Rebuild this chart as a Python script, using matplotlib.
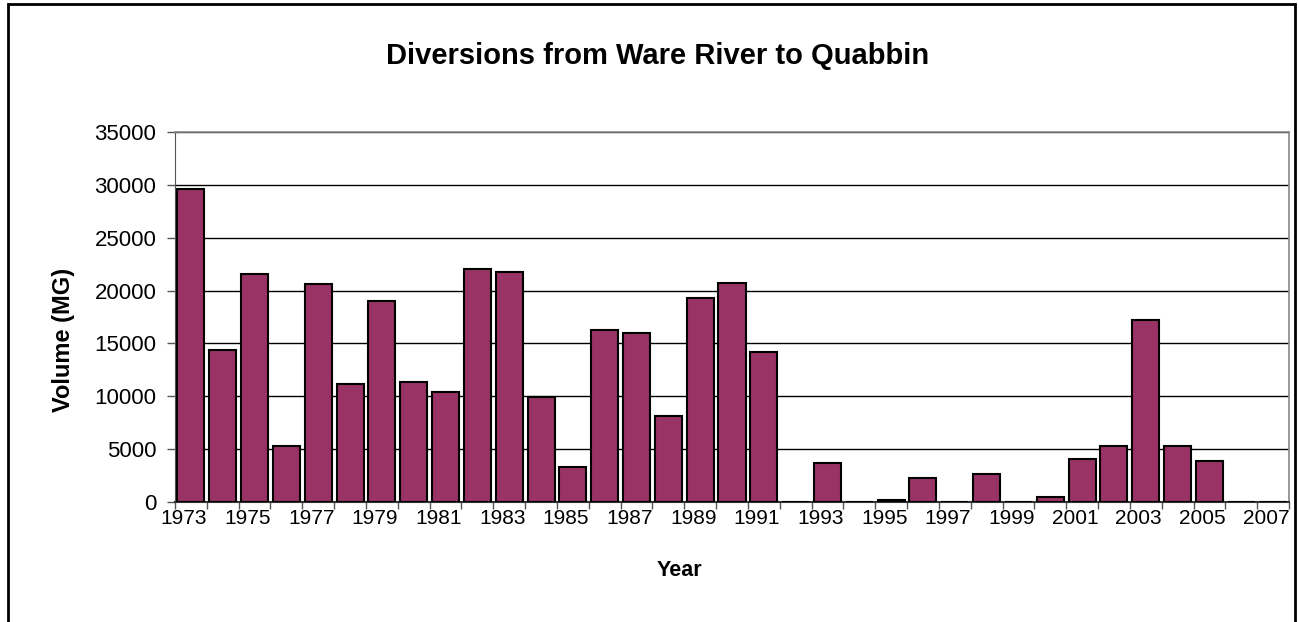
import matplotlib.pyplot as plt
import numpy as np
from matplotlib.patches import Rectangle

plt.rcParams['font.family'] = ['Liberation Sans', 'DejaVu Sans']

years = list(range(1973, 2008))
volume = [29600, 14400, 21600, 5300, 20600, 11150, 19000, 11350, 10450,
          22000, 21800, 9950, 3350, 16300, 16000, 8100, 19300, 20700, 14200,
          0, 3700, 0, 150, 2300, 0, 2650, 0, 500, 4050, 5300, 17200, 5300,
          3900, 0, 0]
yticks = [0, 5000, 10000, 15000, 20000, 25000, 30000, 35000]

W, H = 1299, 622
fig = plt.figure(figsize=(W / 100, H / 100), dpi=100)
ax = fig.add_axes([175 / W, 1 - 502 / H, (1289 - 175) / W, (502 - 132) / H])

x = np.arange(len(years))
ax.bar(x, volume, width=0.85, color='#993366', edgecolor='black', linewidth=1.5, zorder=3)

ax.set_xlim(-0.5, len(years) - 0.5)
ax.set_ylim(0, 35000)
ax.set_yticks(yticks)
ax.set_yticklabels([str(v) for v in yticks], fontsize=16)
ax.yaxis.grid(True, color='black', linewidth=1, zorder=0)

# ticks at category boundaries, labels every other category
# (labels sit a little left of the bar centre, as in the original)
ax.set_xticks(np.arange(len(years) + 1) - 0.5)
ax.set_xticklabels([])
ax.set_xticks(x[::2] - 0.22, minor=True)
ax.set_xticklabels([str(y) for y in years[::2]], minor=True, fontsize=15)
ax.tick_params(axis='x', which='minor', length=0, pad=5)
ax.tick_params(axis='x', which='major', length=5, width=1, color='#555555')
ax.tick_params(axis='y', length=5.5, width=1, color='#555555', pad=8)

for s in ['top', 'right']:
    ax.spines[s].set_color('#888888')
    ax.spines[s].set_linewidth(1.2)
ax.spines['left'].set_color('#555555')
ax.spines['bottom'].set_color('#333333')
ax.spines['bottom'].set_linewidth(1.5)

fig.text(658 / W, 1 - 56 / H, 'Diversions from Ware River to Quabbin',
         fontsize=21, fontweight='bold', ha='center', va='center')
fig.text(64 / W, 1 - 340 / H, 'Volume (MG)', fontsize=17, fontweight='bold',
         rotation=90, ha='center', va='center')
fig.text(679 / W, 1 - 570 / H, 'Year', fontsize=15.5, fontweight='bold',
         ha='center', va='center')

# outer chart frame
fig.patches.append(Rectangle((8 / W, -0.1), (1295 - 8) / W, 1.1 - 4 / H,
                             transform=fig.transFigure, fill=False,
                             edgecolor='black', linewidth=2))

fig.savefig('out.png', dpi=100)
